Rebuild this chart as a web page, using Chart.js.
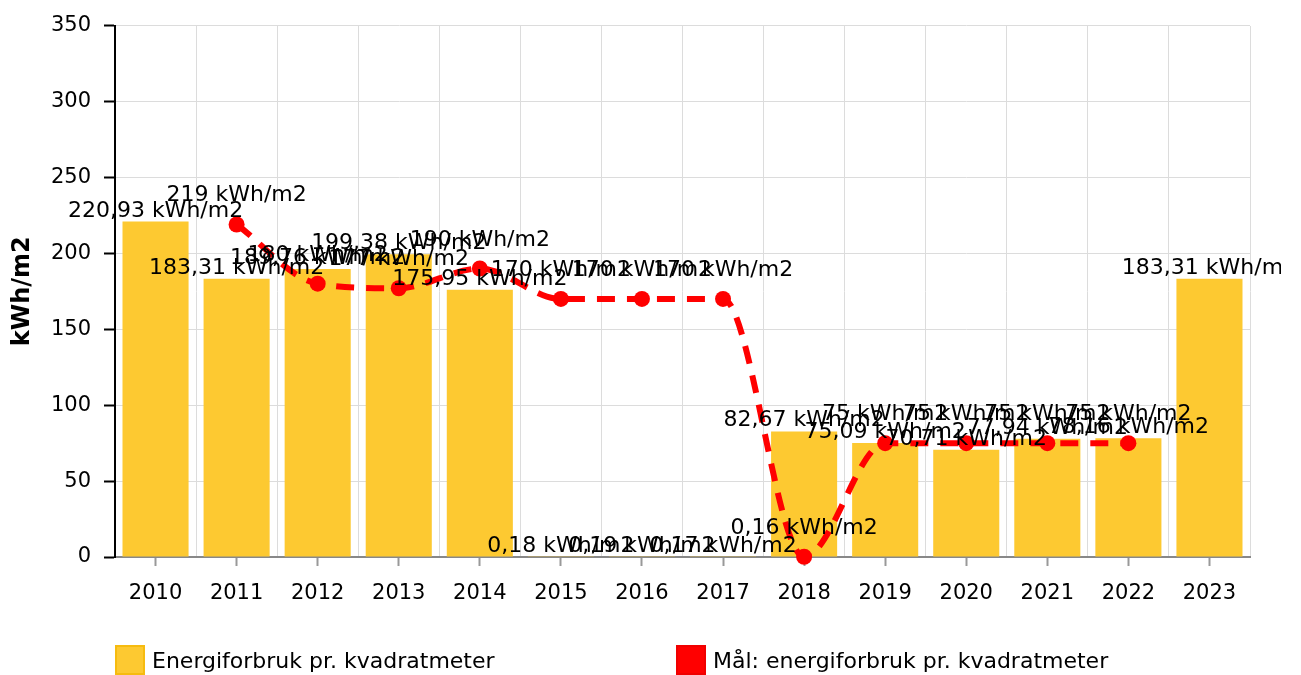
<!DOCTYPE html>
<html>
<head>
<meta charset="utf-8">
<script src="https://cdn.jsdelivr.net/npm/chart.js@4/dist/chart.umd.min.js"></script>
<style>
  body { margin: 0; background: #fff; }
  #wrap { position: relative; width: 1301px; height: 675px; overflow: hidden; font-family: "DejaVu Sans"; }
  #chart { position: absolute; left: 0; top: 0; }
  .item { position: absolute; top: 645px; height: 30px; line-height: 31px; font-size: 22px; color: #000; white-space: nowrap; }
  .box { position: absolute; top: 0; width: 30px; height: 30px; box-sizing: border-box; }
</style>
</head>
<body>
<div id="wrap">
  <canvas id="chart" width="1301" height="675"></canvas>
  <div class="box" style="left:115px; top:645px; background:#fdc931; border:2px solid #f6bb10;"></div>
  <div class="item" style="left:152px;">Energiforbruk pr. kvadratmeter</div>
  <div class="box" style="left:676px; top:645px; background:#ff0000; border:2px solid #f00000;"></div>
  <div class="item" style="left:713px;">Mål: energiforbruk pr. kvadratmeter</div>
</div>
<script>
  const years = ['2010', '2011', '2012', '2013', '2014', '2015', '2016', '2017', '2018', '2019', '2020', '2021', '2022', '2023'];
  const energyUse = [220.93, 183.31, 189.76, 199.38, 175.95, 0.18, 0.19, 0.17, 82.67, 75.09, 70.71, 77.94, 78.16, 183.31];
  const energyTarget = [null, 219, 180, 177, 190, 170, 170, 170, 0.16, 75, 75, 75, 75, null];
  const unit = 'kWh/m2';

  Chart.defaults.font.family = '"DejaVu Sans"';
  Chart.defaults.color = '#000';

  function fmt(v) {
    return String(v).replace('.', ',') + ' ' + unit;
  }

  // draws the value above each bar and point (cut off a bit right of the plot, like the original)
  const valueLabels = {
    id: 'valueLabels',
    afterDatasetsDraw(chart) {
      let ctx = chart.ctx;
      ctx.save();
      ctx.beginPath();
      ctx.rect(0, 0, chart.chartArea.right + 31, chart.height);
      ctx.clip();
      ctx.font = '22px "DejaVu Sans"';
      ctx.fillStyle = '#000';
      ctx.textAlign = 'center';
      ctx.textBaseline = 'alphabetic';
      [1, 0].forEach(i => {
        let ds = chart.data.datasets[i];
        let meta = chart.getDatasetMeta(i);
        let gap = ds.type === 'line' ? 23 : 5;
        meta.data.forEach((el, j) => {
          let v = ds.data[j];
          if (v == null) return;
          ctx.fillText(fmt(v), el.x, el.y - gap);
        });
      });
      ctx.restore();
    }
  };

  new Chart(document.getElementById('chart'), {
    data: {
      labels: years,
      datasets: [
        {
          type: 'line',
          label: 'Mål: energiforbruk pr. kvadratmeter',
          data: energyTarget,
          xAxisID: 'x',
          order: 0,
          borderColor: '#ff0000',
          borderWidth: 6,
          borderDash: [18, 12],
          cubicInterpolationMode: 'monotone',
          pointRadius: 8,
          pointHoverRadius: 8,
          pointBorderWidth: 0,
          pointBackgroundColor: '#ff0000',
          clip: false
        },
        {
          type: 'bar',
          label: 'Energiforbruk pr. kvadratmeter',
          data: energyUse,
          xAxisID: 'x',
          order: 1,
          backgroundColor: '#fdc931',
          barPercentage: 1,
          categoryPercentage: 0.815
        }
      ]
    },
    options: {
      responsive: false,
      animation: false,
      devicePixelRatio: 1,
      layout: { padding: { top: 23, right: 51, bottom: 0, left: 0 } },
      plugins: {
        legend: { display: false },
        tooltip: { enabled: false }
      },
      scales: {
        x: {
          type: 'category',
          position: 'bottom',
          offset: true,
          grid: { drawOnChartArea: false, offset: false, tickLength: 9, tickColor: '#999', tickWidth: 2 },
          border: { color: '#888', width: 2 },
          ticks: { font: { size: 21 }, color: '#000', padding: 15, maxRotation: 0, autoSkip: false },
          afterFit: scale => { scale.height = 118; }
        },
        x2: {
          type: 'category',
          position: 'top',
          offset: true,
          grid: { offset: true, color: '#dcdcdc', lineWidth: 1, drawTicks: false },
          border: { display: false },
          ticks: { display: false }
        },
        y: {
          min: 0,
          max: 350,
          ticks: { stepSize: 50, font: { size: 21 }, color: '#000', padding: 13 },
          grid: { color: '#dcdcdc', lineWidth: 1, tickLength: 11, tickColor: '#000', tickWidth: 2 },
          border: { color: '#000', width: 2 },
          title: { display: true, text: unit, font: { size: 24, weight: 'bold' }, color: '#000', padding: { top: 8, bottom: 0 } },
          afterFit: scale => { scale.width = 115; }
        }
      }
    },
    plugins: [valueLabels]
  });
</script>
</body>
</html>
